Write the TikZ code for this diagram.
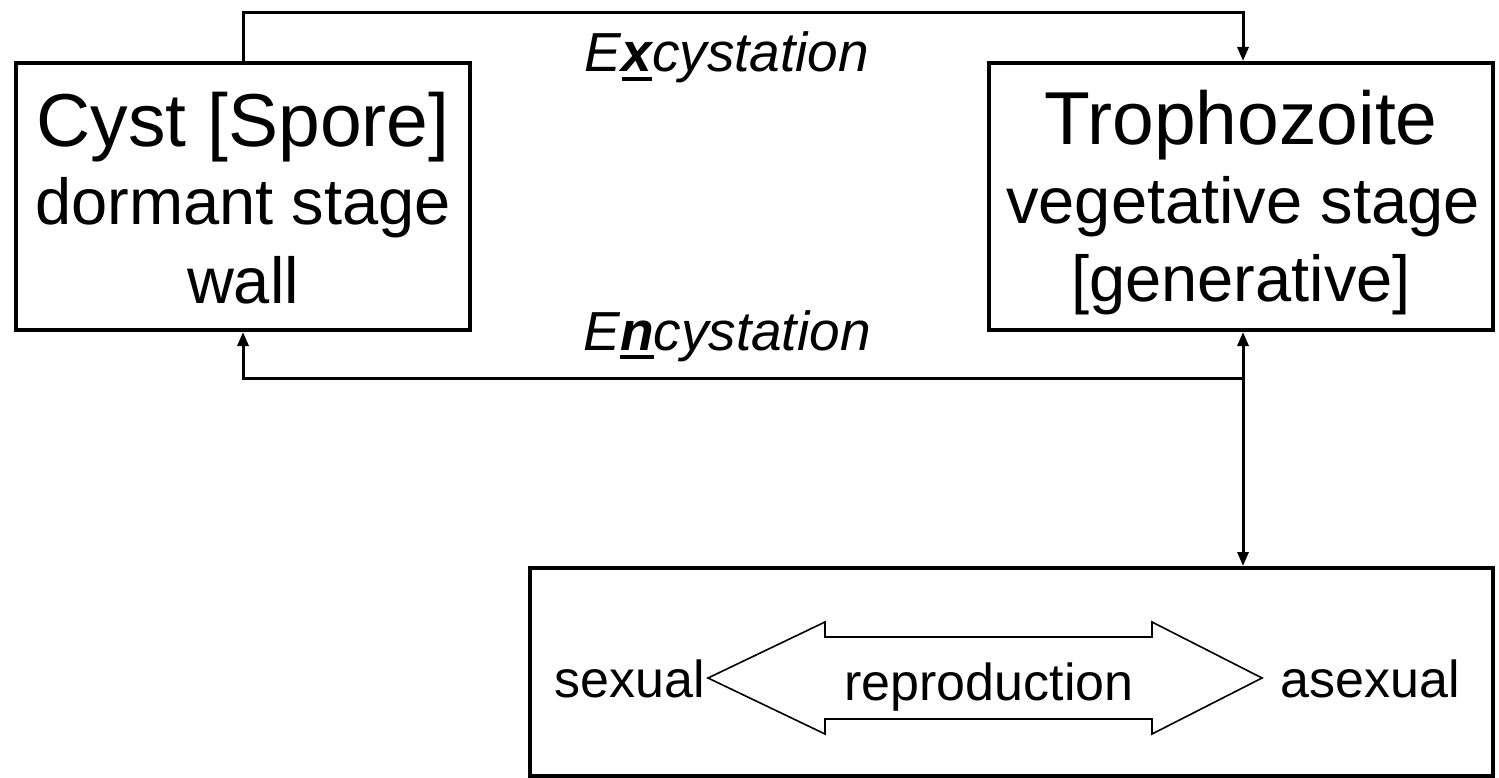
\documentclass[tikz,border=0pt]{standalone}
\usepackage{fontspec}
\setmainfont{Liberation Sans}
\usetikzlibrary{arrows.meta}
\newcommand\myul[1]{\setbox0\hbox{#1}\rlap{\raisebox{-9pt}{\rule{\wd0}{4pt}}}\box0}
\tikzset{
  box/.style={draw=black, line width=4pt, rectangle, inner sep=0pt},
  conn/.style={line width=3pt, -{Triangle[length=14pt,width=11pt]}},
  big/.style={font=\fontsize{75}{78}\selectfont, anchor=base, inner sep=0pt},
  mid/.style={font=\fontsize{65}{78}\selectfont, anchor=base, inner sep=0pt},
  lab/.style={font=\fontsize{55}{60}\selectfont\itshape, anchor=base, inner sep=0pt},
  small/.style={font=\fontsize{52}{60}\selectfont, anchor=base, inner sep=0pt},
}
\begin{document}
\begin{tikzpicture}[x=1pt,y=-1pt]
\useasboundingbox (0,0) rectangle (1499,778);
\node[box, minimum width=454pt, minimum height=267pt] (cyst) at (243,196.5) {};
\node[box, minimum width=504pt, minimum height=267pt] (troph) at (1241,196.5) {};
\node[box, minimum width=963pt, minimum height=208pt] (repro) at (1011.5,672) {};

\node[big] (c1) at (243,147) {Cyst [Spore]};
\node[mid] (c2) at (243,225) {dormant stage};
\node[mid] (c3) at (243,303) {wall};
\node[big] (t1) at (1241,145) {Trophozoite};
\node[mid] (t2) at (1243,223) {vegetative stage};
\node[mid] (t3) at (1241,301) {[generative]};

\node[lab] (ex) at (727,72) {E\myul{\bfseries x}cystation};
\node[lab] (en) at (727,350) {E\myul{\bfseries n}cystation};

\coordinate (tb) at ([xshift=2pt]troph.south);
\coordinate (tt) at ([xshift=2pt]troph.north);
\coordinate (rt) at (tb |- repro.north);
\coordinate (j) at (1243,378);

\draw[conn] (cyst.north) -- ++(0,-48) -| (tt);
\draw[conn] (j) -| (cyst.south);
\draw[conn, {Triangle[length=14pt,width=11pt]}-{Triangle[length=14pt,width=11pt]}] (tb) -- (rt);

\draw[line width=1.6pt, line join=miter] (708,678) -- (825,622) -- (825,637) -- (1152,637) -- (1152,622)
  -- (1262,678) -- (1152,734) -- (1152,719) -- (825,719) -- (825,734) -- cycle;
\node[small] (sx) at (630,697) {sexual};
\node[small] (rp) at (989,700) {reproduction};
\node[small] (as) at (1370,697) {asexual};
\end{tikzpicture}
\end{document}
